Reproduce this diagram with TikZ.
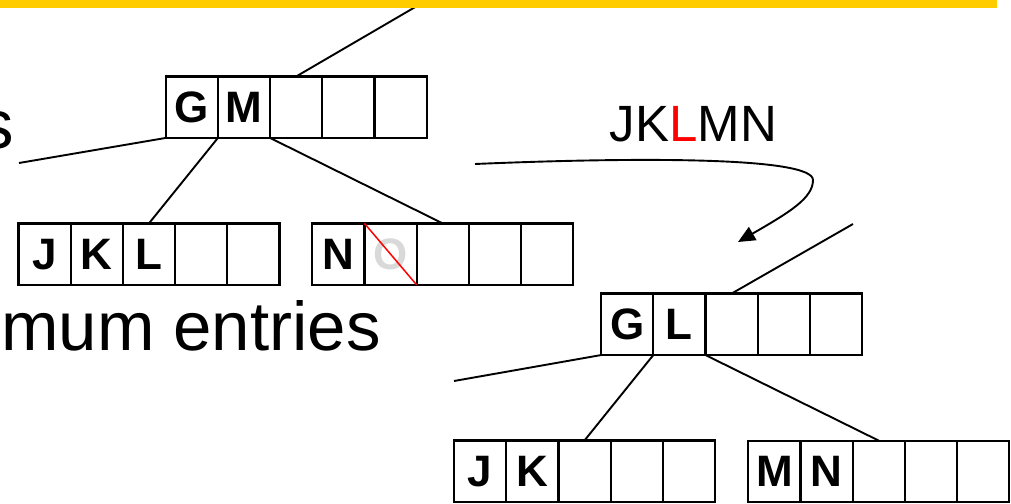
\documentclass[tikz,border=0pt]{standalone}
\usepackage{fontspec}
\setmainfont{Liberation Sans}
\usetikzlibrary{arrows.meta,positioning}
\definecolor{slideYellow}{HTML}{FFCC00}
\definecolor{ghostGray}{HTML}{D9D9D9}

\begin{document}
\begin{tikzpicture}[x=1pt,y=-1pt,
  node distance=0pt,
  cell/.style={rectangle,draw,line width=2.2pt,outer sep=0pt,inner sep=0pt,minimum width=52.2pt,minimum height=61.5pt,font=\fontsize{44}{44}\selectfont\bfseries},
  link/.style={line width=1.9pt},
  big/.style={inner sep=0pt,font=\fontsize{69}{69}\selectfont}
]
\path[use as bounding box,clip] (0,0) rectangle (1011,503);
% left tree, before the split
\node[cell] (gm1) at (191.8,107.2) {G};
\node[cell,right=of gm1] (gm2) {M};
\node[cell,right=of gm2] (gm3) {};
\node[cell,right=of gm3] (gm4) {};
\node[cell,right=of gm4] (gm5) {};
\node[cell] (jkl1) at (44.5,254.2) {J};
\node[cell,right=of jkl1] (jkl2) {K};
\node[cell,right=of jkl2] (jkl3) {L};
\node[cell,right=of jkl3] (jkl4) {};
\node[cell,right=of jkl4] (jkl5) {};
\node[cell] (no1) at (338.4,254.2) {N};
\node[cell,right=of no1] (no2) {\textcolor{ghostGray}{O}};
\node[cell,right=of no2] (no3) {};
\node[cell,right=of no3] (no4) {};
\node[cell,right=of no4] (no5) {};
% right tree, after the split
\node[cell] (gl1) at (627.2,324.3) {G};
\node[cell,right=of gl1] (gl2) {L};
\node[cell,right=of gl2] (gl3) {};
\node[cell,right=of gl3] (gl4) {};
\node[cell,right=of gl4] (gl5) {};
\node[cell] (jk1) at (480.1,471.2) {J};
\node[cell,right=of jk1] (jk2) {K};
\node[cell,right=of jk2] (jk3) {};
\node[cell,right=of jk3] (jk4) {};
\node[cell,right=of jk4] (jk5) {};
\node[cell] (mn1) at (774.4,471.4) {M};
\node[cell,right=of mn1] (mn2) {N};
\node[cell,right=of mn2] (mn3) {};
\node[cell,right=of mn3] (mn4) {};
\node[cell,right=of mn4] (mn5) {};
% texts
\node[big,anchor=base east] (tail) at (14,148) {s};
\node[big,anchor=base west] (entries) at (1,350) {mum entries};
\node[inner sep=0pt,anchor=base west,font=\fontsize{51}{51}\selectfont] (moved) at (609.5,141.7) {JK\textcolor{red}{L}MN};
% free ends
\coordinate (gmUp) at (417,6);
\coordinate (gmLeft) at (19,163);
\coordinate (glUp) at (853,224);
\coordinate (glLeft) at (454,381);
\coordinate (from) at (475,164);
\coordinate (to) at (738,242);
\draw[link] (gmUp) -- (gm3.north);
\draw[link] (gm1.south west) -- (gmLeft);
\draw[link] (gm2.south west) -- (jkl3.north);
\draw[link] (gm3.south west) -- (no3.north);
\draw[red,line width=1.5pt] (no2.north west) -- (no2.south east);
\draw[link] (glUp) -- (gl3.north);
\draw[link] (gl1.south west) -- (glLeft);
\draw[link] (gl2.south west) -- (jk3.north);
\draw[link] (gl3.south west) -- (mn3.north);
\draw[link,-{Triangle[length=17pt,width=15pt]}] (from) .. controls (640,157) and (813,157) .. (813,180) .. controls (813,198) and (790,212) .. (to);
\fill[slideYellow] (0,0) rectangle (997,8);
\end{tikzpicture}
\end{document}
